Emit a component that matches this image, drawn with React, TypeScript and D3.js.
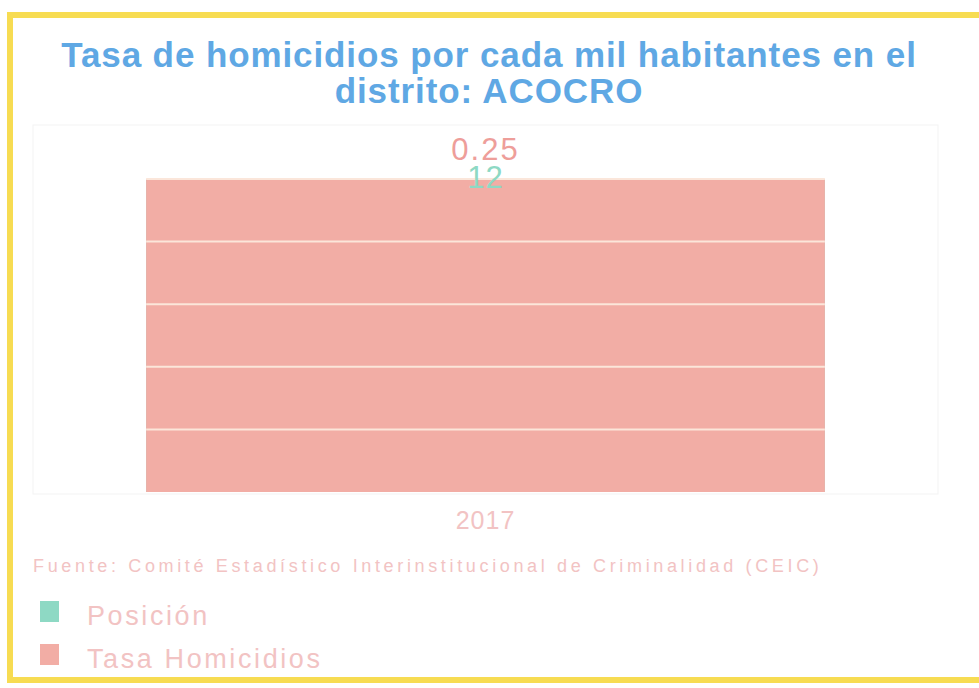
import React from "react";
import * as d3 from "d3";

const categories = ["2017"];
const tasaHomicidios = [0.25];
const posicion = [12];
const yTicks = [0, 0.05, 0.1, 0.15, 0.2, 0.25];
const titleLines = ["Tasa de homicidios por cada mil habitantes en el", "distrito: ACOCRO"];
const sourceText = "Fuente: Comité Estadístico Interinstitucional de Criminalidad (CEIC)";
const legendItems = ["Posición", "Tasa Homicidios"];

const W = 979;
const H = 688;
const plot = { left: 33, right: 938, top: 125, bottom: 494 };
const COLORS = {
  yellow: "#F7DC52",
  title: "#5FA8E4",
  bar: "#F2ADA5",
  posicion: "#8ED9C4",
  label: "#EE9E9A",
  text: "#F2C3C3",
  grid: "#FBE6DA",
};

export default function App() {
  const x = d3
    .scaleBand<string>()
    .domain(categories)
    .range([plot.left, plot.right])
    .paddingInner(0.25)
    .paddingOuter(0.125);
  const y = d3.scaleLinear().domain([0, 0.25]).range([492, 179]);
  const y2 = d3.scaleLinear().domain([0, 12]).range([492, 179]);

  return (
    <svg
      width={W}
      height={H}
      style={{ position: "absolute", left: 0, top: 0, background: "#fff" }}
      fontFamily="'Liberation Sans', Arial, sans-serif"
    >
      <rect x={0} y={0} width={W} height={H} fill="#fff" />
      {/* yellow frame */}
      <rect x={10} y={15} width={W + 10} height={665} fill="none" stroke={COLORS.yellow} strokeWidth={6} />
      {/* faint plot frame */}
      <rect
        x={plot.left}
        y={plot.top}
        width={plot.right - plot.left}
        height={plot.bottom - plot.top}
        fill="none"
        stroke="#f3f3f3"
        strokeWidth={1}
      />
      {/* title */}
      {titleLines.map((t, i) => (
        <text
          key={i}
          x={489}
          y={67 + i * 36}
          textAnchor="middle"
          fontSize={35}
          letterSpacing={0.9}
          fontWeight="bold"
          fill={COLORS.title}
        >
          {t}
        </text>
      ))}
      {/* posicion bars (behind) */}
      {categories.map((c, i) => (
        <rect
          key={"p" + c}
          x={x(c)!}
          y={y2(posicion[i])}
          width={x.bandwidth()}
          height={y2(0) - y2(posicion[i])}
          fill={COLORS.posicion}
        />
      ))}
      {/* tasa bars */}
      {categories.map((c, i) => (
        <rect
          key={"t" + c}
          x={x(c)!}
          y={y(tasaHomicidios[i])}
          width={x.bandwidth()}
          height={y(0) - y(tasaHomicidios[i])}
          fill={COLORS.bar}
        />
      ))}
      {/* gridlines */}
      {yTicks.slice(1).map((t) => (
        <line
          key={t}
          x1={x(categories[0])!}
          x2={x(categories[0])! + x.bandwidth()}
          y1={y(t)}
          y2={y(t)}
          stroke={COLORS.grid}
          strokeWidth={2}
        />
      ))}
      {/* labels */}
      {categories.map((c, i) => (
        <g key={"l" + c}>
          <text
            x={x(c)! + x.bandwidth() / 2}
            y={y(tasaHomicidios[i]) - 19}
            textAnchor="middle"
            fontSize={31}
            letterSpacing={2}
            fill={COLORS.label}
          >
            {tasaHomicidios[i].toFixed(2)}
          </text>
          <text
            x={x(c)! + x.bandwidth() / 2}
            y={y2(posicion[i]) + 9}
            textAnchor="middle"
            fontSize={31}
            letterSpacing={1}
            fill={COLORS.posicion}
          >
            {posicion[i]}
          </text>
          <text
            x={x(c)! + x.bandwidth() / 2}
            y={529}
            textAnchor="middle"
            fontSize={25}
            letterSpacing={1}
            fill={COLORS.text}
          >
            {c}
          </text>
        </g>
      ))}
      {/* source */}
      <text x={33} y={572} fontSize={18} letterSpacing={3.65} fill={COLORS.text}>
        {sourceText}
      </text>
      {/* legend */}
      {legendItems.map((l, i) => (
        <g key={l}>
          <rect
            x={40}
            y={601 + i * 43}
            width={19}
            height={21}
            fill={i === 0 ? COLORS.posicion : COLORS.bar}
          />
          <text x={87} y={625 + i * 43} fontSize={27} letterSpacing={2.6} fill={COLORS.text}>
            {l}
          </text>
        </g>
      ))}
    </svg>
  );
}
